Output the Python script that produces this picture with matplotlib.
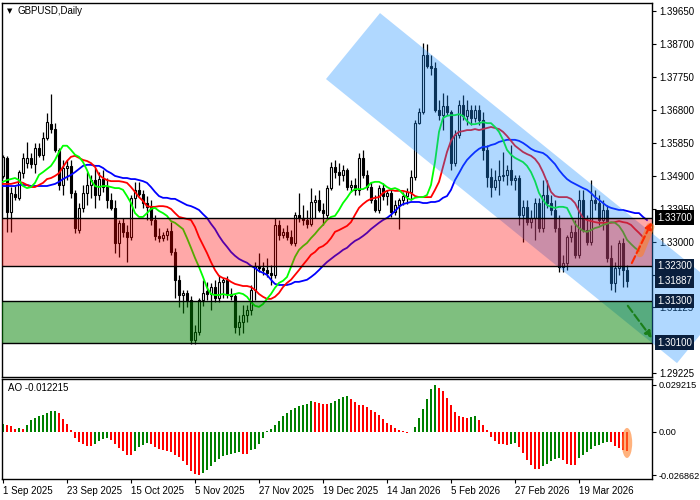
import numpy as np
import matplotlib
matplotlib.use("Agg")
import matplotlib.pyplot as plt
from matplotlib.patches import Rectangle, Polygon, Ellipse

plt.rcParams['font.family'] = ['Liberation Sans', 'DejaVu Sans']
plt.rcParams['font.size'] = 7

# daily GBPUSD candles, 1 Sep 2025 .. end of Mar 2026
opens = [
    1.3490, 1.3542, 1.3386, 1.3438, 1.3427, 1.3498, 1.3527, 1.3542, 1.3524, 1.3571,
    1.3551, 1.3599, 1.3640, 1.3625, 1.3565, 1.3464, 1.3513, 1.3519, 1.3441, 1.3334,
    1.3398, 1.3441, 1.3464, 1.3478, 1.3435, 1.3481, 1.3458, 1.3421, 1.3398, 1.3297,
    1.3355, 1.3329, 1.3314, 1.3427, 1.3450, 1.3438, 1.3412, 1.3401, 1.3363, 1.3317,
    1.3311, 1.3320, 1.3332, 1.3271, 1.3191, 1.3147, 1.3153, 1.3133, 1.3018, 1.3041,
    1.3133, 1.3159, 1.3150, 1.3170, 1.3139, 1.3185, 1.3191, 1.3150, 1.3145, 1.3055,
    1.3069, 1.3090, 1.3104, 1.3162, 1.3231, 1.3225, 1.3219, 1.3211, 1.3205, 1.3349,
    1.3320, 1.3329, 1.3314, 1.3297, 1.3378, 1.3369, 1.3363, 1.3352, 1.3415, 1.3421,
    1.3392, 1.3378, 1.3455, 1.3516, 1.3501, 1.3493, 1.3507, 1.3458, 1.3464, 1.3450,
    1.3542, 1.3493, 1.3458, 1.3421, 1.3392, 1.3455, 1.3432, 1.3441, 1.3386, 1.3406,
    1.3421, 1.3432, 1.3444, 1.3487, 1.3642, 1.3674, 1.3838, 1.3807, 1.3801, 1.3680,
    1.3665, 1.3691, 1.3674, 1.3527, 1.3608, 1.3694, 1.3663, 1.3680, 1.3657, 1.3680,
    1.3651, 1.3565, 1.3487, 1.3458, 1.3478, 1.3490, 1.3493, 1.3507, 1.3478, 1.3484,
    1.3378, 1.3401, 1.3357, 1.3369, 1.3412, 1.3340, 1.3435, 1.3412, 1.3392, 1.3340,
    1.3228, 1.3240, 1.3314, 1.3329, 1.3263, 1.3421, 1.3334, 1.3300, 1.3421, 1.3412,
    1.3363, 1.3392, 1.3254, 1.3182, 1.3225, 1.3297, 1.3219]
highs = [
    1.3551, 1.3548, 1.3458, 1.3461, 1.3507, 1.3556, 1.3588, 1.3556, 1.3585, 1.3585,
    1.3617, 1.3671, 1.3726, 1.3642, 1.3571, 1.3536, 1.3536, 1.3536, 1.3450, 1.3412,
    1.3464, 1.3501, 1.3493, 1.3513, 1.3501, 1.3507, 1.3484, 1.3441, 1.3421, 1.3363,
    1.3369, 1.3349, 1.3435, 1.3473, 1.3473, 1.3450, 1.3432, 1.3421, 1.3378, 1.3340,
    1.3329, 1.3340, 1.3357, 1.3283, 1.3205, 1.3162, 1.3162, 1.3145, 1.3061, 1.3139,
    1.3191, 1.3185, 1.3182, 1.3191, 1.3205, 1.3196, 1.3202, 1.3168, 1.3150, 1.3090,
    1.3119, 1.3119, 1.3176, 1.3242, 1.3268, 1.3242, 1.3254, 1.3234, 1.3369, 1.3363,
    1.3340, 1.3349, 1.3334, 1.3386, 1.3441, 1.3406, 1.3392, 1.3455, 1.3435, 1.3450,
    1.3412, 1.3464, 1.3530, 1.3536, 1.3527, 1.3522, 1.3513, 1.3478, 1.3484, 1.3556,
    1.3565, 1.3507, 1.3473, 1.3435, 1.3464, 1.3470, 1.3450, 1.3455, 1.3421, 1.3427,
    1.3444, 1.3455, 1.3507, 1.3651, 1.3686, 1.3873, 1.3870, 1.3838, 1.3818, 1.3709,
    1.3729, 1.3723, 1.3680, 1.3622, 1.3709, 1.3723, 1.3709, 1.3694, 1.3694, 1.3694,
    1.3674, 1.3579, 1.3513, 1.3507, 1.3536, 1.3559, 1.3522, 1.3579, 1.3493, 1.3493,
    1.3421, 1.3421, 1.3392, 1.3427, 1.3427, 1.3478, 1.3478, 1.3435, 1.3421, 1.3378,
    1.3263, 1.3320, 1.3349, 1.3363, 1.3450, 1.3450, 1.3378, 1.3478, 1.3450, 1.3435,
    1.3421, 1.3406, 1.3291, 1.3242, 1.3306, 1.3311, 1.3234]
lows = [
    1.3484, 1.3329, 1.3329, 1.3421, 1.3421, 1.3484, 1.3513, 1.3513, 1.3498, 1.3545,
    1.3536, 1.3594, 1.3614, 1.3559, 1.3450, 1.3435, 1.3478, 1.3427, 1.3326, 1.3326,
    1.3386, 1.3406, 1.3427, 1.3398, 1.3421, 1.3444, 1.3398, 1.3392, 1.3268, 1.3257,
    1.3314, 1.3242, 1.3306, 1.3398, 1.3432, 1.3398, 1.3363, 1.3349, 1.3306, 1.3300,
    1.3303, 1.3306, 1.3263, 1.3139, 1.3113, 1.3096, 1.3113, 1.3006, 1.3006, 1.3032,
    1.3116, 1.3133, 1.3104, 1.3127, 1.3127, 1.3139, 1.3139, 1.3133, 1.3038, 1.3032,
    1.3038, 1.3069, 1.3090, 1.3133, 1.3214, 1.3205, 1.3199, 1.3176, 1.3196, 1.3306,
    1.3311, 1.3306, 1.3291, 1.3288, 1.3357, 1.3349, 1.3340, 1.3346, 1.3369, 1.3386,
    1.3349, 1.3369, 1.3450, 1.3484, 1.3464, 1.3475, 1.3450, 1.3444, 1.3435, 1.3435,
    1.3484, 1.3450, 1.3412, 1.3386, 1.3383, 1.3421, 1.3406, 1.3372, 1.3378, 1.3337,
    1.3406, 1.3409, 1.3421, 1.3478, 1.3639, 1.3668, 1.3801, 1.3781, 1.3674, 1.3651,
    1.3622, 1.3665, 1.3507, 1.3519, 1.3599, 1.3651, 1.3637, 1.3637, 1.3645, 1.3637,
    1.3536, 1.3458, 1.3429, 1.3450, 1.3435, 1.3475, 1.3464, 1.3464, 1.3450, 1.3349,
    1.3300, 1.3349, 1.3340, 1.3306, 1.3329, 1.3329, 1.3398, 1.3378, 1.3329, 1.3214,
    1.3214, 1.3219, 1.3300, 1.3254, 1.3254, 1.3329, 1.3291, 1.3291, 1.3392, 1.3349,
    1.3334, 1.3242, 1.3162, 1.3156, 1.3205, 1.3170, 1.3170]
closes = [
    1.3545, 1.3386, 1.3441, 1.3429, 1.3501, 1.3542, 1.3542, 1.3524, 1.3571, 1.3551,
    1.3599, 1.3645, 1.3625, 1.3565, 1.3464, 1.3513, 1.3519, 1.3441, 1.3340, 1.3398,
    1.3441, 1.3464, 1.3478, 1.3435, 1.3481, 1.3458, 1.3421, 1.3398, 1.3297, 1.3355,
    1.3329, 1.3314, 1.3427, 1.3450, 1.3438, 1.3412, 1.3401, 1.3363, 1.3317, 1.3311,
    1.3320, 1.3332, 1.3271, 1.3191, 1.3147, 1.3153, 1.3133, 1.3018, 1.3041, 1.3133,
    1.3153, 1.3150, 1.3170, 1.3139, 1.3185, 1.3191, 1.3150, 1.3145, 1.3055, 1.3069,
    1.3090, 1.3104, 1.3162, 1.3231, 1.3225, 1.3219, 1.3211, 1.3205, 1.3349, 1.3320,
    1.3329, 1.3314, 1.3297, 1.3378, 1.3369, 1.3363, 1.3352, 1.3415, 1.3421, 1.3392,
    1.3383, 1.3455, 1.3516, 1.3501, 1.3493, 1.3507, 1.3458, 1.3464, 1.3450, 1.3542,
    1.3493, 1.3458, 1.3421, 1.3392, 1.3455, 1.3432, 1.3441, 1.3386, 1.3406, 1.3421,
    1.3432, 1.3444, 1.3487, 1.3642, 1.3674, 1.3838, 1.3807, 1.3801, 1.3680, 1.3665,
    1.3691, 1.3674, 1.3527, 1.3608, 1.3694, 1.3663, 1.3680, 1.3657, 1.3680, 1.3651,
    1.3565, 1.3487, 1.3458, 1.3478, 1.3490, 1.3493, 1.3507, 1.3478, 1.3484, 1.3378,
    1.3401, 1.3357, 1.3369, 1.3412, 1.3340, 1.3435, 1.3412, 1.3392, 1.3340, 1.3228,
    1.3240, 1.3314, 1.3329, 1.3263, 1.3421, 1.3334, 1.3300, 1.3421, 1.3412, 1.3363,
    1.3392, 1.3254, 1.3182, 1.3225, 1.3297, 1.3219, 1.31887]

# Alligator lines (already shifted forward, so they run past the last candle)
lips = [
    1.3473, 1.3478, 1.3481, 1.3484, 1.3478, 1.3461, 1.3455, 1.3458, 1.3470, 1.3493,
    1.3501, 1.3510, 1.3519, 1.3536, 1.3559, 1.3577, 1.3577, 1.3565, 1.3551, 1.3545,
    1.3530, 1.3507, 1.3478, 1.3461, 1.3458, 1.3461, 1.3461, 1.3458, 1.3455, 1.3455,
    1.3450, 1.3432, 1.3412, 1.3383, 1.3372, 1.3372, 1.3383, 1.3395, 1.3398, 1.3389,
    1.3383, 1.3375, 1.3360, 1.3355, 1.3346, 1.3337, 1.3311, 1.3283, 1.3254, 1.3228,
    1.3199, 1.3168, 1.3150, 1.3147, 1.3147, 1.3150, 1.3147, 1.3147, 1.3150, 1.3153,
    1.3150, 1.3142, 1.3127, 1.3116, 1.3113, 1.3121, 1.3136, 1.3150, 1.3168, 1.3182,
    1.3188, 1.3199, 1.3228, 1.3257, 1.3277, 1.3288, 1.3297, 1.3311, 1.3323, 1.3337,
    1.3349, 1.3363, 1.3372, 1.3375, 1.3392, 1.3412, 1.3427, 1.3444, 1.3452, 1.3452,
    1.3452, 1.3458, 1.3470, 1.3473, 1.3473, 1.3467, 1.3458, 1.3452, 1.3455, 1.3450,
    1.3438, 1.3427, 1.3421, 1.3427, 1.3429, 1.3429, 1.3435, 1.3464, 1.3530, 1.3617,
    1.3657, 1.3663, 1.3665, 1.3665, 1.3668, 1.3663, 1.3648, 1.3639, 1.3639, 1.3642,
    1.3645, 1.3642, 1.3642, 1.3631, 1.3617, 1.3594, 1.3565, 1.3551, 1.3542, 1.3536,
    1.3530, 1.3519, 1.3501, 1.3475, 1.3441, 1.3421, 1.3406, 1.3401, 1.3398, 1.3401,
    1.3401, 1.3398, 1.3375, 1.3352, 1.3340, 1.3332, 1.3329, 1.3334, 1.3340, 1.3343,
    1.3349, 1.3352, 1.3357, 1.3355, 1.3346, 1.3329, 1.3306, 1.3294, 1.3283, 1.3274]
teeth = [
    1.3467, 1.3467, 1.3467, 1.3470, 1.3473, 1.3470, 1.3464, 1.3458, 1.3458, 1.3464,
    1.3470, 1.3481, 1.3484, 1.3490, 1.3498, 1.3516, 1.3533, 1.3545, 1.3548, 1.3542,
    1.3536, 1.3533, 1.3527, 1.3516, 1.3493, 1.3484, 1.3478, 1.3475, 1.3475, 1.3475,
    1.3473, 1.3470, 1.3458, 1.3444, 1.3429, 1.3418, 1.3403, 1.3401, 1.3401, 1.3403,
    1.3403, 1.3401, 1.3395, 1.3383, 1.3372, 1.3369, 1.3366, 1.3363, 1.3343, 1.3314,
    1.3291, 1.3268, 1.3242, 1.3219, 1.3202, 1.3196, 1.3193, 1.3185, 1.3179, 1.3176,
    1.3173, 1.3173, 1.3170, 1.3162, 1.3150, 1.3142, 1.3136, 1.3136, 1.3142, 1.3153,
    1.3170, 1.3182, 1.3191, 1.3205, 1.3219, 1.3234, 1.3248, 1.3263, 1.3271, 1.3283,
    1.3288, 1.3297, 1.3311, 1.3329, 1.3334, 1.3340, 1.3346, 1.3357, 1.3378, 1.3398,
    1.3409, 1.3418, 1.3424, 1.3427, 1.3429, 1.3441, 1.3447, 1.3450, 1.3447, 1.3447,
    1.3447, 1.3444, 1.3441, 1.3432, 1.3429, 1.3429, 1.3429, 1.3429, 1.3450, 1.3473,
    1.3516, 1.3559, 1.3591, 1.3608, 1.3617, 1.3619, 1.3622, 1.3622, 1.3625, 1.3622,
    1.3625, 1.3628, 1.3631, 1.3628, 1.3625, 1.3617, 1.3605, 1.3591, 1.3577, 1.3568,
    1.3559, 1.3553, 1.3548, 1.3539, 1.3524, 1.3501, 1.3473, 1.3444, 1.3432, 1.3429,
    1.3429, 1.3429, 1.3424, 1.3412, 1.3389, 1.3369, 1.3363, 1.3360, 1.3357, 1.3355,
    1.3355, 1.3355, 1.3355, 1.3357, 1.3360, 1.3357, 1.3355, 1.3349, 1.3337, 1.3326,
    1.3314]
jaw = [
    1.3461, 1.3461, 1.3461, 1.3461, 1.3464, 1.3464, 1.3464, 1.3461, 1.3461, 1.3461,
    1.3461, 1.3461, 1.3464, 1.3467, 1.3473, 1.3481, 1.3487, 1.3493, 1.3501, 1.3510,
    1.3519, 1.3522, 1.3522, 1.3519, 1.3519, 1.3513, 1.3504, 1.3498, 1.3490, 1.3487,
    1.3484, 1.3484, 1.3481, 1.3481, 1.3478, 1.3475, 1.3470, 1.3458, 1.3444, 1.3432,
    1.3427, 1.3427, 1.3424, 1.3424, 1.3418, 1.3412, 1.3406, 1.3403, 1.3398, 1.3392,
    1.3380, 1.3369, 1.3352, 1.3337, 1.3317, 1.3300, 1.3286, 1.3271, 1.3260, 1.3251,
    1.3245, 1.3240, 1.3231, 1.3225, 1.3216, 1.3211, 1.3205, 1.3191, 1.3179, 1.3176,
    1.3176, 1.3176, 1.3179, 1.3185, 1.3185, 1.3188, 1.3191, 1.3199, 1.3208, 1.3219,
    1.3231, 1.3242, 1.3251, 1.3260, 1.3268, 1.3277, 1.3283, 1.3294, 1.3303, 1.3309,
    1.3317, 1.3326, 1.3337, 1.3346, 1.3355, 1.3363, 1.3369, 1.3378, 1.3389, 1.3401,
    1.3409, 1.3412, 1.3415, 1.3415, 1.3415, 1.3412, 1.3412, 1.3415, 1.3415, 1.3418,
    1.3427, 1.3432, 1.3450, 1.3478, 1.3498, 1.3519, 1.3536, 1.3548, 1.3559, 1.3568,
    1.3574, 1.3574, 1.3579, 1.3582, 1.3588, 1.3591, 1.3594, 1.3594, 1.3594, 1.3591,
    1.3585, 1.3577, 1.3568, 1.3562, 1.3559, 1.3556, 1.3548, 1.3536, 1.3524, 1.3507,
    1.3493, 1.3481, 1.3473, 1.3467, 1.3461, 1.3455, 1.3450, 1.3441, 1.3429, 1.3421,
    1.3412, 1.3403, 1.3398, 1.3395, 1.3392, 1.3392, 1.3389, 1.3386, 1.3383, 1.3383,
    1.3372, 1.3363]

# Awesome Oscillator
ao = [
    0.0052, 0.0046, 0.0035, 0.0017, 0.0023, 0.0017, 0.0042, 0.0073, 0.0089, 0.0102,
    0.0108, 0.0119, 0.0129, 0.0130, 0.0119, 0.0083, 0.0052, 0.0010, -0.0037, -0.0062,
    -0.0077, -0.0087, -0.0089, -0.0073, -0.0056, -0.0046, -0.0037, -0.0052, -0.0077, -0.0098,
    -0.0121, -0.0141, -0.0146, -0.0121, -0.0094, -0.0079, -0.0069, -0.0077, -0.0094, -0.0108,
    -0.0114, -0.0116, -0.0125, -0.0141, -0.0156, -0.0181, -0.0208, -0.0243, -0.0264, -0.026862,
    -0.0254, -0.0239, -0.0212, -0.0187, -0.0166, -0.0152, -0.0146, -0.0137, -0.0131, -0.0125,
    -0.0137, -0.0139, -0.0114, -0.0108, -0.0073, -0.0037, 0.0006, 0.0017, 0.0042, 0.0069,
    0.0098, 0.0119, 0.0135, 0.0150, 0.0162, 0.0166, 0.0171, 0.0191, 0.0187, 0.0179,
    0.0173, 0.0171, 0.0181, 0.0191, 0.0204, 0.0218, 0.0225, 0.0204, 0.0187, 0.0166,
    0.0165, 0.0152, 0.0139, 0.0125, 0.0104, 0.0083, 0.0056, 0.0042, 0.0025, 0.0010,
    0.0004, -0.0010, -0.0002, 0.0031, 0.0087, 0.0141, 0.0204, 0.0266, 0.029215, 0.0275,
    0.0254, 0.0214, 0.0166, 0.0121, 0.0100, 0.0094, 0.0087, 0.0092, 0.0096, 0.0077,
    0.0042, 0.0010, -0.0031, -0.0056, -0.0073, -0.0077, -0.0079, -0.0073, -0.0071, -0.0094,
    -0.0131, -0.0177, -0.0208, -0.0229, -0.0231, -0.0212, -0.0198, -0.0183, -0.0166, -0.0164,
    -0.0177, -0.0198, -0.0204, -0.0206, -0.0162, -0.0141, -0.0125, -0.0108, -0.0089, -0.0079,
    -0.0069, -0.0062, -0.0065, -0.0088, -0.0100, -0.0112, -0.012215]

date_bars = [0, 16, 32, 48, 64, 80, 96, 112, 128, 144]
date_labels = ['1 Sep 2025', '23 Sep 2025', '15 Oct 2025', '5 Nov 2025', '27 Nov 2025',
               '19 Dec 2025', '14 Jan 2026', '5 Feb 2026', '27 Feb 2026', '19 Mar 2026']
# 1.30175 sits fully behind the 1.30100 box, so it is left out
price_ticks = [1.39650, 1.38700, 1.37750, 1.36800, 1.35850, 1.34900, 1.33950,
               1.33000, 1.32050, 1.31125, 1.29225]

levels = [1.3370, 1.3230, 1.3130, 1.3010]   # resistance / support lines
last_price = 1.31887
# descending channel corners (bar index, price)
channel = [(80.75, 1.3769), (94.25, 1.3959), (182.0, 1.3141), (168.5, 1.2951)]
up_arrow = [(157.2, 1.3239), (162.2, 1.3357)]
down_arrow = [(156.2, 1.3116), (162.2, 1.3023)]

fig = plt.figure(figsize=(7, 5), dpi=100)
ax = fig.add_axes([2 / 700, 123 / 500, 650 / 700, 374 / 500])
ax2 = fig.add_axes([2 / 700, 21 / 500, 650 / 700, 100 / 500])

# candles
x = np.arange(len(closes))
ax.vlines(x, lows, highs, color='black', lw=0.9, zorder=2)
for i in x:
    o, c = opens[i], closes[i]
    fc = 'white' if c >= o else 'black'
    ax.add_patch(Rectangle((i - 0.3, min(o, c)), 0.6, max(abs(c - o), 0.00005),
                           facecolor=fc, edgecolor='black', lw=0.8, zorder=2.5))

# alligator
ax.plot(np.arange(len(jaw)), jaw, color='#0000ff', lw=1.3, zorder=3)
ax.plot(np.arange(len(teeth)), teeth, color='#ff0000', lw=1.3, zorder=3)
ax.plot(np.arange(len(lips)), lips, color='#00ff00', lw=1.3, zorder=3)

# channel and zones drawn over the price as translucent overlays
ax.add_patch(Polygon(channel, closed=True, facecolor='#1e90ff', alpha=0.35,
                     edgecolor='none', zorder=4, clip_on=False))
ax.axhspan(levels[1], levels[0], facecolor='#ff0000', alpha=0.34, lw=0, zorder=5)
ax.axhspan(levels[3], levels[2], facecolor='#008000', alpha=0.5, lw=0, zorder=5)
for lv in levels:
    ax.axhline(lv, color='black', lw=1, zorder=6)

# forecast arrows
ax.plot([159.2, 161.8], [1.3268, 1.3343], color='#ff7f27', lw=6, alpha=0.6,
        solid_capstyle='round', zorder=7, clip_on=False)
ax.annotate('', xy=up_arrow[1], xytext=up_arrow[0], annotation_clip=False, zorder=8,
            arrowprops=dict(arrowstyle='-|>', color='#ff2a00', lw=1.5, ls='--',
                            mutation_scale=10, shrinkA=0, shrinkB=0))
ax.annotate('', xy=down_arrow[1], xytext=down_arrow[0], annotation_clip=False, zorder=8,
            arrowprops=dict(arrowstyle='-|>', color='#1a7f1a', lw=1.5, ls='--',
                            mutation_scale=10, shrinkA=0, shrinkB=0))

ax.set_xlim(-0.25, 162.25)
ax.set_ylim(1.2911, 1.3988)
ax.set_xticks([])
ax.yaxis.tick_right()
ax.set_yticks(price_ticks)
ax.set_yticklabels([f'{v:.5f}' for v in price_ticks])
ax.tick_params(axis='y', length=3, pad=2, labelsize=7)

trans = ax.get_yaxis_transform()
for lv, col in zip(levels + [last_price], ['black', '#0a1f3d', '#0a1f3d', '#0a1f3d', '#0a1f3d']):
    ax.text(1.0075, lv, f'{lv:.5f}', transform=trans, ha='left', va='center',
            color='white', fontsize=7, zorder=10, clip_on=False,
            bbox=dict(boxstyle='square,pad=0.22', fc=col, ec='none'))

fig.text(7 / 700, 1 - 11 / 500, '\u25bc', fontsize=5, va='center', ha='left',
         family=['DejaVu Sans'])
fig.text(18 / 700, 1 - 11 / 500, 'GBPUSD,Daily', fontsize=7, va='center', ha='left')

# AO pane
ao_colors = ['#008000'] + ['#008000' if ao[i] > ao[i - 1] else '#ff0000'
                           for i in range(1, len(ao))]
ax2.bar(np.arange(len(ao)), ao, width=0.68, color=ao_colors, zorder=2)
ax2.add_patch(Ellipse((len(ao) - 1, -0.0069), 2.6, 0.0187, facecolor='#ff7f27',
                      alpha=0.6, edgecolor='none', zorder=3))
ax2.set_xlim(-0.25, 162.25)
ax2.set_ylim(-0.02935, 0.03295)
ax2.yaxis.tick_right()
ax2.set_yticks([max(ao), 0.0, min(ao)])
ax2.set_yticklabels([f'{max(ao):.6f}', '0.00', f'{min(ao):.6f}'])
ax2.set_xticks(date_bars)
ax2.set_xticklabels(date_labels, ha='left')
ax2.tick_params(axis='x', length=3, pad=2, labelsize=7)
ax2.tick_params(axis='y', length=3, pad=1.5, labelsize=6.6)
fig.text(8 / 700, 1 - 388 / 500, f'AO {ao[-1]:.6f}', fontsize=7, va='center', ha='left')

for a in (ax, ax2):
    for s in a.spines.values():
        s.set_color('black')
        s.set_linewidth(1)

fig.savefig('out.png', dpi=100)
